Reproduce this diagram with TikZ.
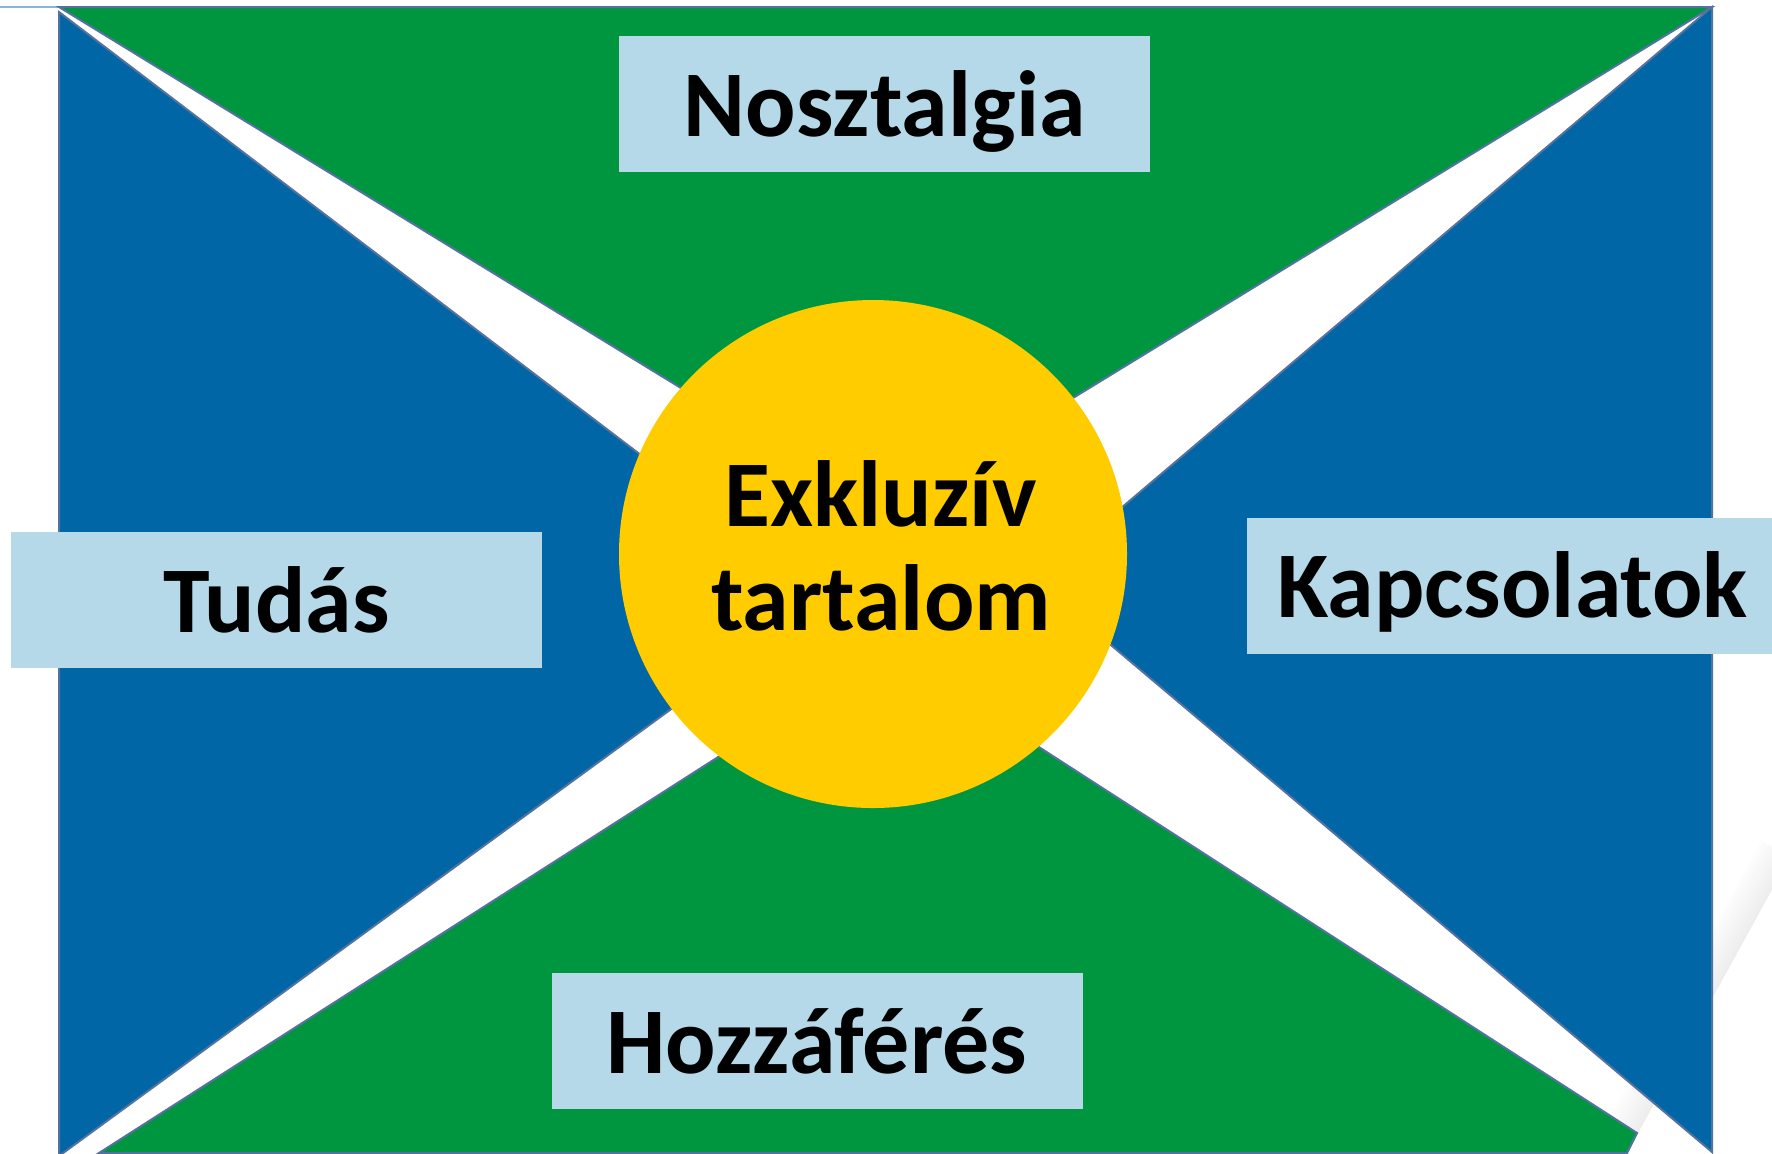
\documentclass[tikz,border=0pt]{standalone}
\usepackage{fontspec}
\setmainfont{Carlito}
\usepackage{xcolor}
\definecolor{flaggreen}{RGB}{0,150,64}
\definecolor{flagblue}{RGB}{0,102,166}
\definecolor{coreyellow}{RGB}{255,204,0}
\definecolor{labelblue}{RGB}{181,217,232}
\definecolor{edgeslate}{RGB}{84,114,160}
\definecolor{topline}{RGB}{141,180,222}
\usepackage{tikz}
\usetikzlibrary{calc}
\tikzset{
  wedge/.style={draw=edgeslate, line width=1pt, line join=miter},
  labelbox/.style={fill=labelblue, inner sep=0pt,
    minimum width=265.5pt, minimum height=68pt,
    text height=38pt, text depth=6pt,
    align=center, font=\fontsize{47}{52}\selectfont\bfseries},
  corecircle/.style={circle, fill=coreyellow, inner sep=0pt,
    minimum size=254pt},
  coretext/.style={align=center, inner sep=0pt,
    font=\fontsize{47}{52}\selectfont\bfseries},
}

\begin{document}
\begin{tikzpicture}[x=0.5pt, y=-0.5pt]
  \useasboundingbox (0,0) rectangle (1772,1153);

  % page curl shadow
  \coordinate (curlA) at (1610,1184);
  \coordinate (curlB) at (1790,857);
  \foreach \k in {0,...,11}{
    \pgfmathsetmacro{\shadeamt}{7-0.55*\k}
    \fill[black!\shadeamt]
      ($(curlA)+(-2.4*\k,-1.32*\k)$) -- ($(curlB)+(-2.4*\k,-1.32*\k)$)
      -- ($(curlB)+(-2.4*\k-2.5,-1.32*\k-1.4)$)
      -- ($(curlA)+(-2.4*\k-2.5,-1.32*\k-1.4)$) -- cycle;
  }

  % corners
  \coordinate (tl) at (59,7);
  \coordinate (tr) at (1712,7);
  \coordinate (bl) at (59,1156);
  \coordinate (br) at (1712,1152);
  \draw[topline, line width=1pt] (0,7) -- (tl);

  % Wedges
  \draw[wedge, fill=flaggreen] (tl) -- (tr) -- (885,513) -- cycle;
  \draw[wedge, fill=flaggreen] (887,649) -- (1637,1133) -- (1627,1153)
    -- (99,1153) -- cycle;
  \draw[wedge, fill=flagblue] (59,12) -- (826,596) -- (bl) -- cycle;
  \draw[wedge, fill=flagblue] (tr) -- (br) -- (1035,581) -- cycle;

  % Centre
  \node[corecircle] (core) at (873,554) {};
  \node[coretext] (coretxt) at (881,546) {Exkluzív\\tartalom};

  % Labels
  \node[labelbox] (nost) at (884.5,104) {Nosztalgia};
  \node[labelbox] (tudas) at (276.5,600) {Tudás};
  \node[labelbox] (kapcs) at (1512.5,585.5) {Kapcsolatok};
  \node[labelbox] (hozza) at (817,1041) {Hozzáférés};
\end{tikzpicture}
\end{document}
